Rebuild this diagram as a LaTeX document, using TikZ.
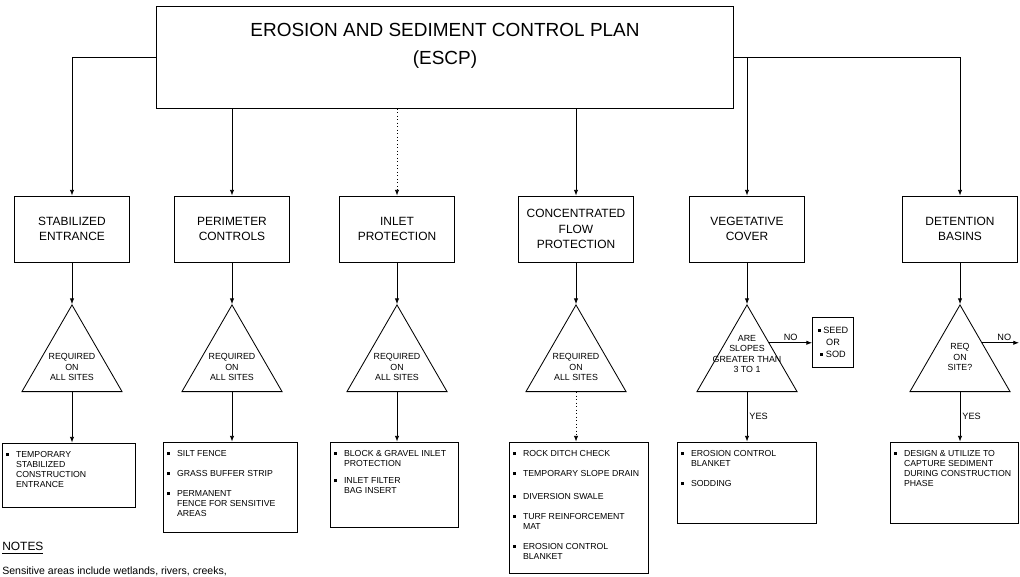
\documentclass[tikz,border=0pt]{standalone}
\usepackage{fontspec}
\setmainfont{Liberation Sans}
\usetikzlibrary{shapes.geometric, arrows.meta, positioning, calc}

\newdimen\pxu \pxu=0.025cm
\newcommand{\sq}{\rule[0.3ex]{2.2pt}{2.2pt}}
\newcommand{\itm}[1]{\par\hangindent=7pt\hangafter=1\noindent\makebox[7pt][l]{\sq}{\let\\\newline #1}\par}
\newcommand{\blist}[3]{\parbox[c][#1\pxu][t]{\dimexpr#2\pxu-6pt\relax}{%
    \raggedright\hyphenpenalty=10000\vspace{6pt}#3}}

\begin{document}
\begin{tikzpicture}[
    x=0.025cm, y=-0.025cm,
    plan/.style={draw, line width=0.7pt, minimum width=14.4cm, minimum height=2.525cm,
                 align=center, font=\fontsize{13.5}{19.5}\selectfont},
    measure/.style={draw, line width=0.6pt, minimum width=2.875cm, minimum height=1.65cm,
                    align=center, font=\fontsize{8.5}{11}\selectfont},
    check/.style={draw, regular polygon, regular polygon sides=3, minimum size=2.887cm,
                  inner sep=0pt, line width=0.6pt},
    query/.style={align=center, inner sep=0pt, font=\fontsize{6.3}{7.3}\selectfont},
    practice/.style={draw, line width=0.6pt, inner xsep=3pt, inner ysep=0pt,
                     font=\fontsize{6.2}{7.2}\selectfont},
    option/.style={draw, line width=0.6pt, minimum width=1.025cm, minimum height=1.25cm,
                   inner sep=1pt, align=center, font=\fontsize{6.5}{8.5}\selectfont},
    tag/.style={inner sep=1.5pt, font=\fontsize{6.5}{7}\selectfont},
    arr/.style={-{Latex[length=4pt,width=3pt]}, line width=0.5pt},
  ]
    \useasboundingbox (0,0) rectangle (1020,577);

    \node[plan] (escp) at (445,57.5) {EROSION AND SEDIMENT CONTROL PLAN\\(ESCP)\\\mbox{}};

    \node[measure] (stab)  at (72,229)  {STABILIZED\\ENTRANCE};
    \node[measure] (peri)  at (232,229) {PERIMETER\\CONTROLS};
    \node[measure] (inlet) at (397,229) {INLET\\PROTECTION};
    \node[measure] (flow)  at (576,229) {CONCENTRATED\\FLOW\\PROTECTION};
    \node[measure] (veg)   at (747,229) {VEGETATIVE\\COVER};
    \node[measure] (basin) at (960,229) {DETENTION\\BASINS};

    \node[check] (c1) at (72,362.7)  {};
    \node[check] (c2) at (232,362.7) {};
    \node[check] (c3) at (397,362.7) {};
    \node[check] (c4) at (576,362.7) {};
    \node[check] (c5) at (747,362.7) {};
    \node[check] (c6) at (960,362.7) {};
    \node[query] (q1) at (72,367)  {REQUIRED\\ON\\ALL SITES};
    \node[query] (q2) at (232,367) {REQUIRED\\ON\\ALL SITES};
    \node[query] (q3) at (397,367) {REQUIRED\\ON\\ALL SITES};
    \node[query] (q4) at (576,367) {REQUIRED\\ON\\ALL SITES};
    \node[query] (q5) at (747,354) {ARE\\SLOPES\\GREATER THAN\\3 TO 1};
    \node[query] (q6) at (960,357) {REQ\\ON\\SITE?};

    \node[option] (seed) at (833,342) {\sq{} SEED\\OR\\\sq{} SOD};

    \node[practice] (p1) at (68.5,475) {\blist{64}{133}{%
        \itm{TEMPORARY\\STABILIZED\\CONSTRUCTION\\ENTRANCE}}};
    \node[practice] (p2) at (230,487) {\blist{90}{134}{%
        \itm{SILT FENCE}\vspace{7pt}
        \itm{GRASS BUFFER STRIP}\vspace{7pt}
        \itm{PERMANENT\\FENCE FOR SENSITIVE\\AREAS}}};
    \node[practice] (p3) at (394,484.5) {\blist{85}{128}{%
        \itm{BLOCK \& GRAVEL INLET\\PROTECTION}\vspace{5pt}
        \itm{INLET FILTER\\BAG INSERT}}};
    \node[practice] (p4) at (578.5,507.5) {\blist{131}{139}{%
        \itm{ROCK DITCH CHECK}\vspace{7pt}
        \itm{TEMPORARY SLOPE DRAIN}\vspace{9pt}
        \itm{DIVERSION SWALE}\vspace{7pt}
        \itm{TURF REINFORCEMENT\\MAT}\vspace{7pt}
        \itm{EROSION CONTROL\\BLANKET}}};
    \node[practice] (p5) at (746.5,482.5) {\blist{81}{139}{%
        \itm{EROSION CONTROL\\BLANKET}\vspace{7pt}
        \itm{SODDING}}};
    \node[practice] (p6) at (954,482.5) {\blist{81}{128}{%
        \itm{DESIGN \& UTILIZE TO\\CAPTURE SEDIMENT\\DURING CONSTRUCTION\\PHASE}}};

    \node[anchor=west, inner sep=0pt, font=\fontsize{8.5}{10}\selectfont] (notes) at (2,548) {\underline{NOTES}};
    \node[anchor=west, inner sep=0pt, font=\fontsize{7.5}{9}\selectfont] (note1) at (2,571)
        {Sensitive areas include wetlands, rivers, creeks,};

    \draw[arr] (escp.west) -| (stab.north);
    \draw[arr] (escp.south -| peri.north) -- (peri.north);
    \draw[arr, dotted] (escp.south -| inlet.north) -- (inlet.north);
    \draw[arr] (escp.south -| flow.north) -- (flow.north);
    \draw[arr] (escp.east) -| (veg.north);
    \draw[arr] (escp.east) -| (basin.north);

    \draw[arr] (stab.south)  -- (c1.corner 1);
    \draw[arr] (peri.south)  -- (c2.corner 1);
    \draw[arr] (inlet.south) -- (c3.corner 1);
    \draw[arr] (flow.south)  -- (c4.corner 1);
    \draw[arr] (veg.south)   -- (c5.corner 1);
    \draw[arr] (basin.south) -- (c6.corner 1);

    \draw[arr] (c1.side 2) -- (c1.side 2 |- p1.north);
    \draw[arr] (c2.side 2) -- (c2.side 2 |- p2.north);
    \draw[arr] (c3.side 2) -- (c3.side 2 |- p3.north);
    \draw[arr, dotted] (c4.side 2) -- (c4.side 2 |- p4.north);
    \draw[arr] (c5.side 2) -- (c5.side 2 |- p5.north) node[tag, midway, right] {YES};
    \draw[arr] (c6.side 2) -- (c6.side 2 |- p6.north) node[tag, midway, right] {YES};

    \coordinate (no5) at ($(c5.corner 1)!0.44!(c5.corner 3)$);
    \coordinate (no6) at ($(c6.corner 1)!0.44!(c6.corner 3)$);
    \coordinate (edge6) at (1019,343);
    \draw[arr] (no5) -- (no5 -| seed.west) node[tag, midway, above] {NO};
    \draw[arr] (no6) -- (no6 -| edge6) node[tag, pos=0.6, above] {NO};
  \end{tikzpicture}
\end{document}
